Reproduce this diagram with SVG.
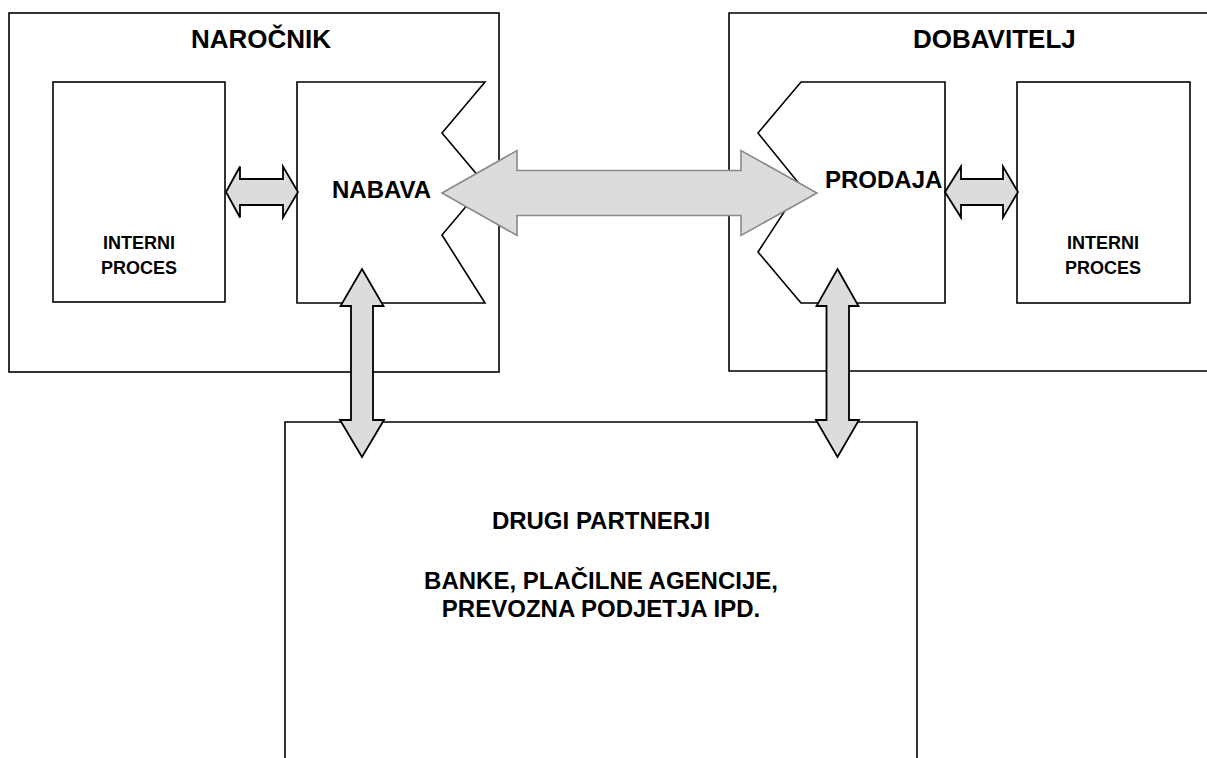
<svg xmlns="http://www.w3.org/2000/svg" width="1207" height="758" viewBox="0 0 1207 758">
  <style>
    .box { fill: none; stroke: #000; stroke-width: 1.6; }
    .panel { fill: #fff; stroke: #000; stroke-width: 1.6; }
    .arrow { fill: #dcdcdc; stroke: #000; stroke-width: 1.8; stroke-linejoin: miter; }
    .arrow-big { fill: #dcdcdc; stroke: #8a8a8a; stroke-width: 1.6; }
    text { font-family: "Liberation Sans", Arial, sans-serif; font-weight: bold; fill: #000; }
    .title { font-size: 26px; }
    .label { font-size: 24px; }
    .small { font-size: 18px; }
  </style>
  <rect width="1207" height="758" fill="#fff"/>

  <!-- Customer side -->
  <g id="narocnik">
    <rect class="box" x="9" y="13" width="490" height="359"/>
    <text class="title" x="191" y="48">NAROČNIK</text>
  </g>
  <g id="interni-proces-1">
    <rect class="panel" x="53" y="82" width="172" height="220"/>
    <text class="small" x="139" y="249" text-anchor="middle">INTERNI</text>
    <text class="small" x="139" y="274" text-anchor="middle">PROCES</text>
  </g>
  <g id="nabava">
    <path class="panel" d="M297,82 H485 L442,133 L485,184 L442,235 L485,303 H297 Z"/>
    <text class="label" x="332" y="198">NABAVA</text>
  </g>

  <!-- Supplier side -->
  <g id="dobavitelj">
    <path class="box" d="M1215,13 H729 V371 H1215"/>
    <text class="title" x="913" y="48">DOBAVITELJ</text>
  </g>
  <g id="prodaja">
    <path class="panel" d="M801,82 H945 V303 H801 L758,252 L801,186 L758,133 Z"/>
    <text class="label" x="825" y="188">PRODAJA</text>
  </g>
  <g id="interni-proces-2">
    <rect class="panel" x="1017" y="82" width="173" height="221"/>
    <text class="small" x="1103" y="249" text-anchor="middle">INTERNI</text>
    <text class="small" x="1103" y="274" text-anchor="middle">PROCES</text>
  </g>

  <!-- Other partners -->
  <g id="drugi-partnerji">
    <path class="box" d="M285,770 V422 H917 V770"/>
    <text class="label" x="601" y="529" text-anchor="middle">DRUGI PARTNERJI</text>
    <text class="label" x="601" y="589" text-anchor="middle">BANKE, PLAČILNE AGENCIJE,</text>
    <text class="label" x="601" y="617" text-anchor="middle">PREVOZNA PODJETJA IPD.</text>
  </g>

  <!-- Connectors: block double arrows -->
  <g id="connectors">
    <path class="arrow" d="M226,192 L240,166.5 V179 H283 V166.5 L298,192 L283,217.5 V205 H240 V217.5 Z"/>
    <path class="arrow" d="M945,192 L961,166.5 V179 H1003 V166.5 L1018,192 L1003,217.5 V205 H961 V217.5 Z"/>
    <path class="arrow-big" d="M442,193 L517,150.5 V170.5 H741 V150.5 L817,193 L741,235.5 V215.5 H517 V235.5 Z"/>
    <path class="arrow" d="M362,269 L383.5,306 H373 V420 H384 L362,457 L340,420 H351 V306 H340.5 Z"/>
    <path class="arrow" d="M837.5,269 L858.5,306 H849 V420 H859 L837.5,457 L816,420 H826.5 V306 H816.5 Z"/>
  </g>
</svg>
